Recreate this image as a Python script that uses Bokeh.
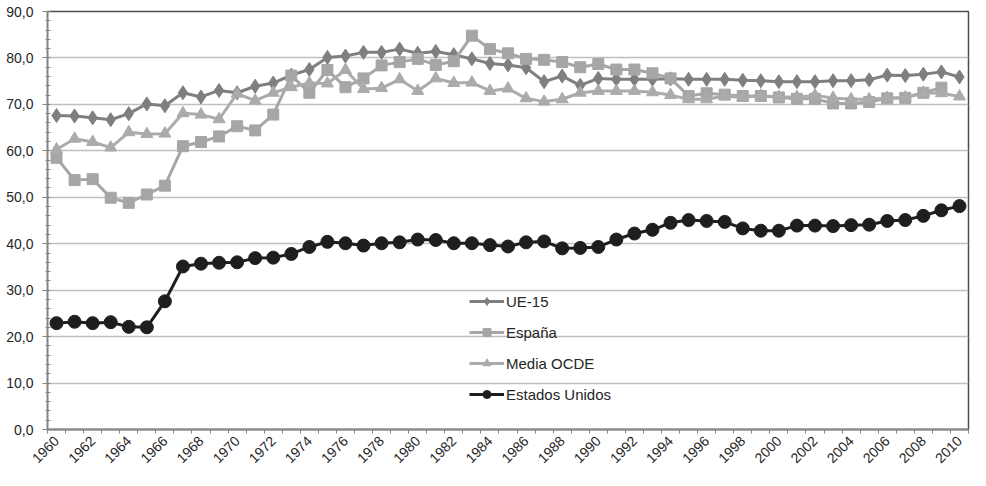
import math
from bokeh.plotting import figure
from bokeh.models import Range1d, FixedTicker, Legend, LegendItem, ColumnDataSource
from bokeh.embed import file_html
from bokeh.resources import INLINE

years = list(range(1960, 2011))
nan = float("nan")

ue15 = [67.6, 67.5, 67.1, 66.7, 68.0, 70.1, 69.7, 72.5, 71.6, 73.0,
        72.5, 73.9, 74.6, 76.3, 77.5, 80.1, 80.4, 81.2, 81.2, 81.9,
        81.0, 81.4, 80.7, 79.8, 78.8, 78.5, 77.9, 74.9, 76.1, 74.1,
        75.6, 75.4, 75.4, 75.4, 75.5, 75.4, 75.4, 75.4, 75.2, 75.1,
        74.9, 74.9, 74.9, 75.1, 75.1, 75.3, 76.3, 76.2, 76.5, 77.0, 75.9]

espana = [58.5, 53.7, 53.9, 49.9, 48.8, 50.6, 52.5, 61.0, 61.9, 63.1,
          65.3, 64.4, 67.8, 76.2, 72.5, 77.4, 73.7, 75.6, 78.4, 79.1,
          79.8, 78.5, 79.3, 84.8, 81.9, 81.0, 79.8, 79.6, 79.1, 78.0,
          78.7, 77.5, 77.5, 76.7, 75.6, 71.8, 72.4, 72.1, 71.8, 71.8,
          71.5, 71.2, 71.2, 70.2, 70.2, 70.5, 71.3, 71.4, 72.5, 73.6, nan]

ocde = [60.3, 62.6, 61.9, 60.7, 64.0, 63.6, 63.7, 68.1, 67.8, 66.8,
        72.3, 70.8, 72.5, 73.7, 74.6, 74.5, 77.4, 73.3, 73.5, 75.4,
        72.9, 75.6, 74.6, 74.7, 72.9, 73.4, 71.3, 70.6, 71.1, 72.5,
        72.9, 72.9, 72.9, 72.6, 72.0, 71.1, 71.1, 71.8, 71.5, 71.9,
        71.6, 71.6, 71.9, 71.4, 71.1, 71.1, 71.4, 71.5, 72.5, 72.4, 71.7]

eeuu = [22.9, 23.2, 22.9, 23.1, 22.1, 22.0, 27.6, 35.1, 35.7, 35.9,
        36.0, 36.9, 37.0, 37.8, 39.3, 40.4, 40.1, 39.6, 40.1, 40.3,
        40.9, 40.8, 40.1, 40.1, 39.7, 39.4, 40.3, 40.5, 39.0, 39.1,
        39.3, 40.9, 42.2, 43.0, 44.5, 45.1, 44.9, 44.7, 43.3, 42.8,
        42.8, 43.9, 43.9, 43.8, 44.0, 44.1, 44.9, 45.1, 46.0, 47.2, 48.1]

series_names = ["UE-15", "España", "Media OCDE", "Estados Unidos"]
y_ticks = [0, 10, 20, 30, 40, 50, 60, 70, 80, 90]
y_tick_labels = ["0,0", "10,0", "20,0", "30,0", "40,0", "50,0", "60,0", "70,0", "80,0", "90,0"]
x_tick_years = list(range(1960, 2011, 2))

FONT = "Liberation Sans"

p = figure(width=970, height=470, output_backend="svg", toolbar_location=None,
           x_range=Range1d(1959.5, 2010.5), y_range=Range1d(0, 90),
           min_border_left=47, min_border_right=2, min_border_top=11, min_border_bottom=30)
p.background_fill_color = "white"
p.border_fill_color = "white"
p.outline_line_color = "#4d4d4d"
p.outline_line_width = 1.5

# axes
xa = p.xaxis[0]
xa.ticker = FixedTicker(ticks=x_tick_years,
                        minor_ticks=[y - 0.5 for y in years] + [2010.5])
xa.major_label_overrides = {y: str(y) for y in x_tick_years}
xa.major_label_orientation = math.pi / 4
xa.major_tick_out = 0
xa.major_tick_in = 0
xa.minor_tick_out = 4
xa.minor_tick_in = 0
xa.minor_tick_line_color = "#868686"
xa.axis_line_color = "#868686"
xa.axis_line_width = 2
xa.major_label_text_font = FONT
xa.major_label_text_font_size = "14px"
xa.major_label_text_color = "#262626"
xa.major_label_standoff = 5

ya = p.yaxis[0]
ya.ticker = FixedTicker(ticks=y_ticks, minor_ticks=list(range(0, 91, 2)))
ya.major_label_overrides = {t: l for t, l in zip(y_ticks, y_tick_labels)}
ya.major_tick_out = 5
ya.major_tick_in = 0
ya.minor_tick_out = 2
ya.minor_tick_in = 3
ya.major_tick_line_color = "#868686"
ya.minor_tick_line_color = "#868686"
ya.axis_line_color = "#868686"
ya.axis_line_width = 1.5
ya.major_label_text_font = FONT
ya.major_label_text_font_size = "14px"
ya.major_label_text_color = "#262626"
ya.major_label_standoff = 9

p.xgrid.grid_line_color = None
p.ygrid.grid_line_color = "#bfbfbf"
p.ygrid.grid_line_width = 1.5

src = ColumnDataSource(dict(x=years, ue15=ue15, espana=espana, ocde=ocde, eeuu=eeuu))

c_ue = "#7f7f7f"
c_es = "#a6a6a6"
c_oc = "#ababab"
c_us = "#1e1e1e"

l1 = p.line("x", "ue15", source=src, line_color=c_ue, line_width=3)
m1 = p.scatter("x", "ue15", source=src, marker="diamond", size=14, fill_color=c_ue, line_color=c_ue)
l2 = p.line("x", "espana", source=src, line_color=c_es, line_width=3)
m2 = p.scatter("x", "espana", source=src, marker="square", size=11, fill_color=c_es, line_color=c_es)
l3 = p.line("x", "ocde", source=src, line_color=c_oc, line_width=3)
m3 = p.scatter("x", "ocde", source=src, marker="triangle", size=12, fill_color=c_oc, line_color=c_oc)
l4 = p.line("x", "eeuu", source=src, line_color=c_us, line_width=3)
m4 = p.scatter("x", "eeuu", source=src, marker="circle", size=13, fill_color=c_us, line_color=c_us)

items = [LegendItem(label=series_names[0], renderers=[l1, m1]),
         LegendItem(label=series_names[1], renderers=[l2, m2]),
         LegendItem(label=series_names[2], renderers=[l3, m3]),
         LegendItem(label=series_names[3], renderers=[l4, m4])]
legend = Legend(items=items, location=(422, 25), orientation="vertical",
                background_fill_alpha=0, border_line_color=None,
                padding=0, margin=0, spacing=11, glyph_width=35, glyph_height=20,
                label_standoff=2, label_text_font=FONT, label_text_font_size="15px",
                label_text_color="#262626")
p.add_layout(legend, "center")

with open("out.html", "w") as f:
    f.write(file_html(p, INLINE))
